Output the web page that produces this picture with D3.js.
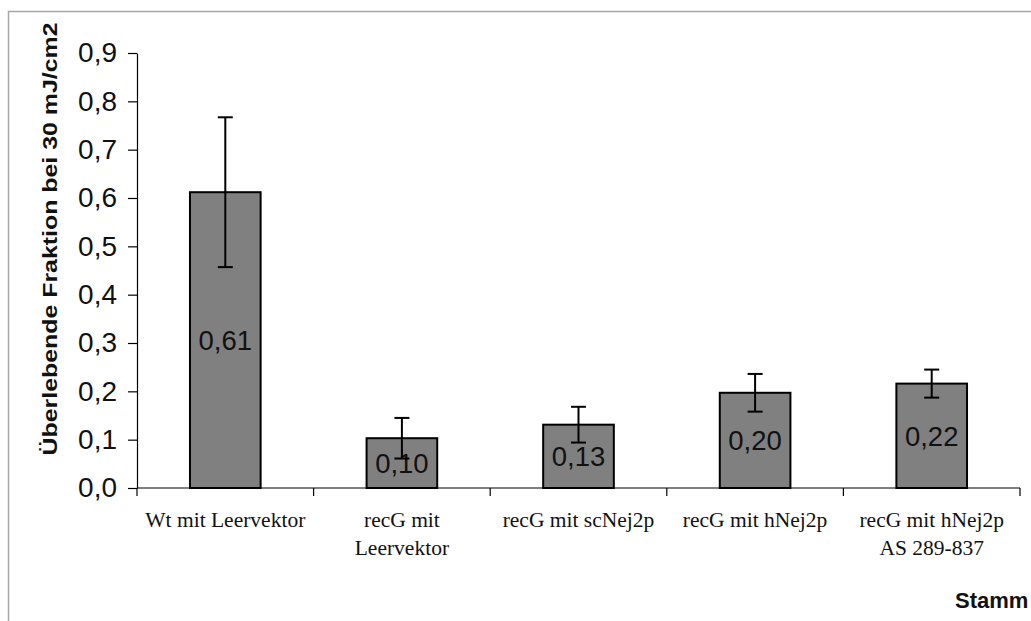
<!DOCTYPE html>
<html lang="de">
<head>
<meta charset="UTF-8">
<title>Überlebende Fraktion bei 30 mJ/cm2</title>
<style>
  body { margin: 0; background: #fff; }
  svg { display: block; }
</style>
</head>
<body>
<div id="chart"></div>
<script src="https://d3js.org/d3.v7.min.js"></script>
<script>
// chart data
const categories = ["Wt mit Leervektor", "recG mit Leervektor", "recG mit scNej2p", "recG mit hNej2p", "recG mit hNej2p AS 289-837"];
const categoryLines = [["Wt mit Leervektor"], ["recG mit", "Leervektor"], ["recG mit scNej2p"], ["recG mit hNej2p"], ["recG mit hNej2p", "AS 289-837"]];
const values = [0.612, 0.103, 0.131, 0.197, 0.216];
const errors = [0.155, 0.042, 0.037, 0.039, 0.029];
const yTicks = [0, 0.1, 0.2, 0.3, 0.4, 0.5, 0.6, 0.7, 0.8, 0.9];
const yTitle = "Überlebende Fraktion bei 30 mJ/cm2";
const xTitle = "Stamm";

const W = 1031, H = 621;
const plot = { left: 137, right: 1020, top: 53, bottom: 488 };

const de = d3.formatLocale({ decimal: ",", thousands: ".", grouping: [3], currency: ["", " €"] });
const fmt1 = de.format(".1f"), fmt2 = de.format(".2f");

const svg = d3.select("#chart").append("svg")
    .attr("width", W)
    .attr("height", H);

// outer chart border
svg.append("rect")
    .attr("x", 8.5).attr("y", 11.5)
    .attr("width", 1100).attr("height", 700)
    .attr("fill", "none")
    .attr("stroke", "#a6a6a6")
    .attr("stroke-width", 1.5);

const x = d3.scaleBand()
    .domain(categories)
    .range([plot.left, plot.right])
    .paddingInner(0.6)
    .paddingOuter(0.3);

const y = d3.scaleLinear()
    .domain([0, 0.9])
    .range([plot.bottom, plot.top]);

const step = x.step();

// bars
svg.selectAll(".bar")
    .data(values)
    .enter().append("rect")
    .attr("class", "bar")
    .attr("x", (d, i) => x(categories[i]))
    .attr("y", d => y(d))
    .attr("width", x.bandwidth())
    .attr("height", d => y(0) - y(d))
    .attr("fill", "#808080")
    .attr("stroke", "#000")
    .attr("stroke-width", 2);

// value labels
svg.selectAll(".val")
    .data(values)
    .enter().append("text")
    .attr("class", "val")
    .attr("x", (d, i) => x(categories[i]) + x.bandwidth() / 2)
    .attr("y", d => (y(d) + y(0)) / 2)
    .attr("dy", "0.36em")
    .attr("text-anchor", "middle")
    .attr("font-family", "Arial, 'Liberation Sans', sans-serif")
    .attr("font-size", "27.5px")
    .attr("fill", "#111")
    .text(d => fmt2(d));

// error bars
const eb = svg.selectAll(".err")
    .data(values)
    .enter().append("g")
    .attr("class", "err")
    .attr("stroke", "#000")
    .attr("stroke-width", 2);

eb.append("line")
    .attr("x1", (d, i) => x(categories[i]) + x.bandwidth() / 2)
    .attr("x2", (d, i) => x(categories[i]) + x.bandwidth() / 2)
    .attr("y1", (d, i) => y(d + errors[i]))
    .attr("y2", (d, i) => y(d - errors[i]));

[1, -1].forEach(s => {
    eb.append("line")
        .attr("x1", (d, i) => x(categories[i]) + x.bandwidth() / 2 - 7.5)
        .attr("x2", (d, i) => x(categories[i]) + x.bandwidth() / 2 + 7.5)
        .attr("y1", (d, i) => y(d + s * errors[i]))
        .attr("y2", (d, i) => y(d + s * errors[i]));
});

// y axis
const yAxis = svg.append("g")
    .attr("transform", `translate(${plot.left},0)`)
    .call(d3.axisLeft(y).tickValues(yTicks).tickFormat(fmt1).tickSize(9).tickSizeOuter(0).tickPadding(11));
yAxis.select(".domain").attr("stroke", "#000").attr("stroke-width", 1.2);
yAxis.selectAll(".tick line").attr("stroke", "#000").attr("stroke-width", 1.2);
yAxis.selectAll(".tick text")
    .attr("font-family", "Arial, 'Liberation Sans', sans-serif")
    .attr("font-size", "28px")
    .attr("fill", "#111");

// x axis line and boundary ticks
svg.append("line")
    .attr("x1", plot.left).attr("x2", plot.right)
    .attr("y1", y(0)).attr("y2", y(0))
    .attr("stroke", "#000").attr("stroke-width", 1.2);

const bounds = categories.map(c => x(c) - (step - x.bandwidth()) / 2).concat([plot.right]);
svg.selectAll(".xtick")
    .data(bounds)
    .enter().append("line")
    .attr("class", "xtick")
    .attr("x1", d => d).attr("x2", d => d)
    .attr("y1", y(0)).attr("y2", y(0) + 8)
    .attr("stroke", "#000").attr("stroke-width", 1.2);

// category labels
const cl = svg.selectAll(".cat")
    .data(categoryLines)
    .enter().append("text")
    .attr("class", "cat")
    .attr("text-anchor", "middle")
    .attr("font-family", "'Times New Roman', 'Liberation Serif', serif")
    .attr("font-size", "21.5px")
    .attr("fill", "#111");

cl.selectAll("tspan")
    .data((d, i) => d.map(line => ({ line, i })))
    .enter().append("tspan")
    .attr("x", d => x(categories[d.i]) + x.bandwidth() / 2)
    .attr("y", (d, j) => 527 + j * 28)
    .text(d => d.line);

// axis titles
svg.append("text")
    .attr("transform", "translate(57,239) rotate(-90)")
    .attr("text-anchor", "middle")
    .attr("font-family", "Arial, 'Liberation Sans', sans-serif")
    .attr("font-weight", "bold")
    .attr("font-size", "21px")
    .attr("textLength", 433)
    .attr("lengthAdjust", "spacingAndGlyphs")
    .attr("fill", "#111")
    .text(yTitle);

svg.append("text")
    .attr("x", 955)
    .attr("y", 608)
    .attr("font-family", "Arial, 'Liberation Sans', sans-serif")
    .attr("font-weight", "bold")
    .attr("font-size", "22px")
    .attr("fill", "#111")
    .text(xTitle);
</script>
</body>
</html>
